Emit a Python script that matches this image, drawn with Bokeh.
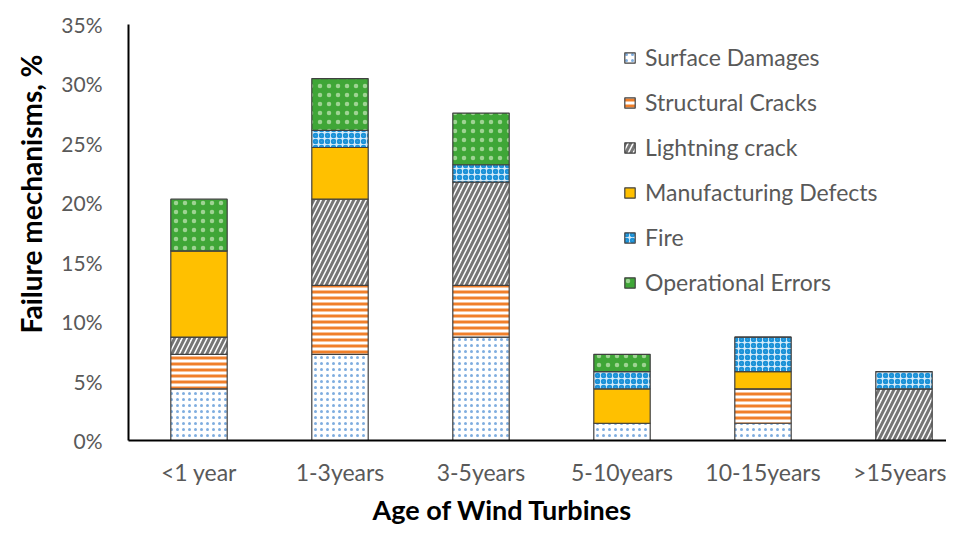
from bokeh.plotting import figure
from bokeh.models import Range1d, FixedTicker, PrintfTickFormatter, Legend, Title
from bokeh.embed import file_html
from bokeh.resources import INLINE

categories = ["<1 year", "1-3years", "3-5years", "5-10years", "10-15years", ">15years"]
series_names = ["Surface Damages", "Structural Cracks", "Lightning crack",
                "Manufacturing Defects", "Fire", "Operational Errors"]
surface = [4.35, 7.25, 8.70, 1.45, 1.45, 0.0]
structural = [2.90, 5.80, 4.35, 0.0, 2.90, 0.0]
lightning = [1.45, 7.25, 8.70, 0.0, 0.0, 4.35]
manufacturing = [7.25, 4.35, 0.0, 2.90, 1.45, 0.0]
fire = [0.0, 1.45, 1.45, 1.45, 2.90, 1.45]
operational = [4.35, 4.35, 4.35, 1.45, 0.0, 0.0]
y_ticks = [0, 5, 10, 15, 20, 25, 30, 35]

FONT = "Lato"
GRAY = "#595959"

xs = [i + 0.5 for i in range(len(categories))]
series = [surface, structural, lightning, manufacturing, fire, operational]

p = figure(width=946, height=528, output_backend="svg", toolbar_location=None,
           x_range=Range1d(0, 818 / 141), y_range=Range1d(0, 35),
           min_border_left=128, min_border_right=0, min_border_top=24, min_border_bottom=88)
p.outline_line_color = None
p.xgrid.visible = False
p.ygrid.visible = False

fills = ["white", "white", "white", "#FFC000", "#D6EBF9", "#3FA637"]
hatches = [".", "-", "/", " ", "o", "."]
hcolors = ["#7FAEE0", "#F07F2A", "#767676", "#FFC000", "#1E93D8", "#9ED393"]
hweights = [0.8, 3.0, 3.0, 1.0, 2.5, 0.5]
hscales = [6, 6, 10, 8, 6, 9]

bottom = [0.0] * len(xs)
items = []
for k, vals in enumerate(series):
    top = [b + v for b, v in zip(bottom, vals)]
    src = dict(x=xs, bottom=bottom, top=top)
    r = p.vbar(x="x", bottom="bottom", top="top", width=0.4, source=src,
               fill_color=fills[k], line_color="#404040", line_width=1.2,
               hatch_pattern=hatches[k], hatch_color=hcolors[k],
               hatch_weight=hweights[k], hatch_scale=hscales[k])
    items.append((series_names[k], [r]))
    bottom = top

legend = Legend(items=items, location=(495, 144), orientation="vertical")
legend.border_line_color = None
legend.background_fill_alpha = 0
legend.padding = 0
legend.margin = 0
legend.spacing = 17
legend.label_height = 28
legend.glyph_height = 13
legend.glyph_width = 13
legend.label_standoff = 9
legend.label_text_font = FONT
legend.label_text_font_size = "23px"
legend.label_text_color = GRAY
legend.label_text_baseline = "middle"
p.add_layout(legend, "center")

p.yaxis.ticker = FixedTicker(ticks=y_ticks)
p.yaxis.formatter = PrintfTickFormatter(format="%d%%")
p.xaxis.ticker = FixedTicker(ticks=xs)
p.xaxis.major_label_overrides = {x: c for x, c in zip(xs, categories)}
for ax in (p.xaxis, p.yaxis):
    ax.major_tick_line_color = None
    ax.minor_tick_line_color = None
    ax.major_tick_out = 0
    ax.major_tick_in = 0
    ax.axis_line_color = "black"
    ax.axis_line_width = 2
    ax.major_label_text_font = FONT
    ax.major_label_text_color = GRAY
p.yaxis.major_label_text_font_size = "21px"
p.xaxis.major_label_text_font_size = "23px"
p.yaxis.major_label_standoff = 26
p.xaxis.major_label_standoff = 17

xt = Title(text="Age of Wind Turbines", align="left", offset=244, standoff=5,
           text_font=FONT, text_font_style="bold", text_font_size="27px", text_color="black")
p.add_layout(xt, "below")
yt = Title(text="Failure mechanisms, %", align="left", offset=107, standoff=21,
           text_font=FONT, text_font_style="bold", text_font_size="28px", text_color="black")
p.add_layout(yt, "left")

open("out.html", "w").write(file_html(p, INLINE))
